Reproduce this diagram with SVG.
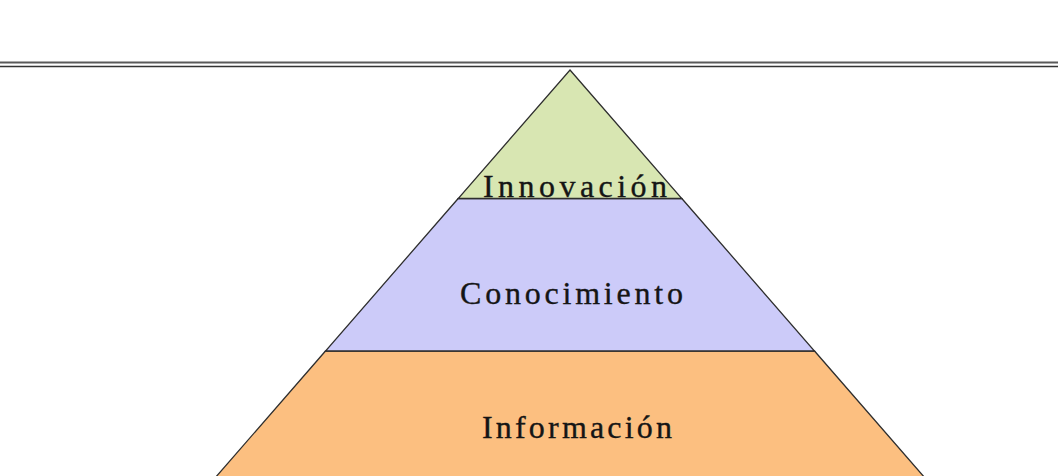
<svg xmlns="http://www.w3.org/2000/svg" width="1058" height="476" viewBox="0 0 1058 476">
  <style>
    .band { stroke: #2e2e2e; stroke-width: 1.3; stroke-linejoin: miter; }
    .lbl { font-family: "Liberation Serif", "Times New Roman", serif; font-size: 32px; fill: #151515; stroke: #151515; stroke-width: 0.35; }
  </style>
  <rect x="0" y="0" width="1058" height="476" fill="#ffffff"/>
  <g id="rule">
    <line x1="0" y1="62.5" x2="1058" y2="62.5" stroke="#5a5a5a" stroke-width="2"/>
    <line x1="0" y1="66.5" x2="1058" y2="66.5" stroke="#333333" stroke-width="1.5"/>
  </g>
  <g id="informacion">
    <polygon class="band" points="325.5,351 814.5,351 925,478 215,478" fill="#fcbf80"/>
    <text class="lbl" x="482" y="438" textLength="190" lengthAdjust="spacing">Información</text>
  </g>
  <g id="conocimiento">
    <polygon class="band" points="458.2,198.5 681.8,198.5 814.5,351 325.5,351" fill="#cccbf9"/>
    <text class="lbl" x="460" y="304" textLength="223" lengthAdjust="spacing">Conocimiento</text>
  </g>
  <g id="innovacion">
    <polygon class="band" points="570,70 681.8,198.5 458.2,198.5" fill="#d8e6b2"/>
    <text class="lbl" x="483" y="197" textLength="184" lengthAdjust="spacing" stroke-width="0.8">Innovación</text>
  </g>
  <g id="connectors"></g>
</svg>
